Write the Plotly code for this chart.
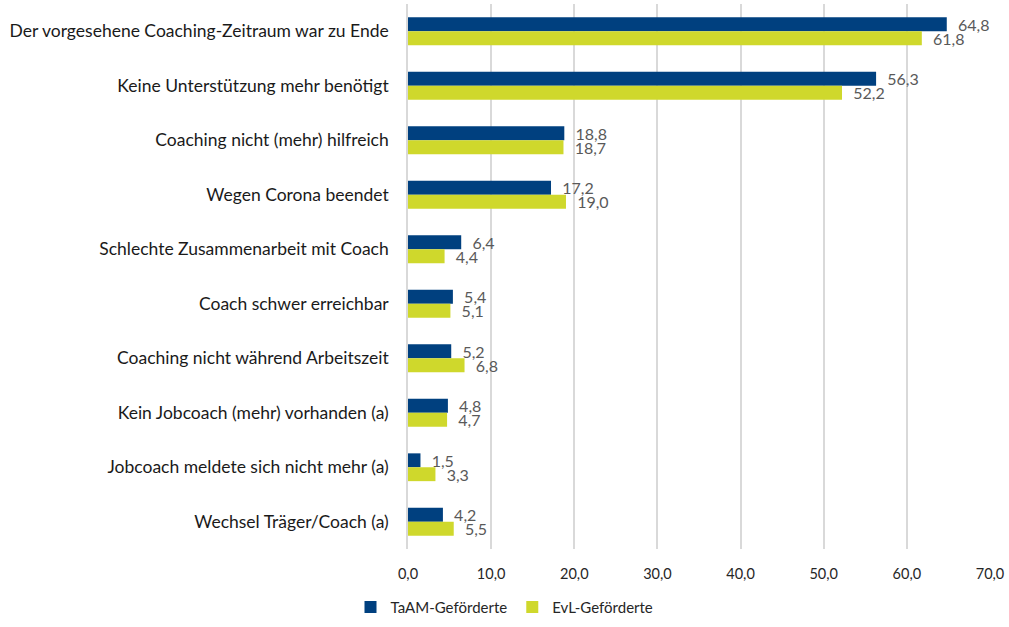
import plotly.graph_objects as go

categories = [
    "Der vorgesehene Coaching-Zeitraum war zu Ende",
    "Keine Unterstützung mehr benötigt",
    "Coaching nicht (mehr) hilfreich",
    "Wegen Corona beendet",
    "Schlechte Zusammenarbeit mit Coach",
    "Coach schwer erreichbar",
    "Coaching nicht während Arbeitszeit",
    "Kein Jobcoach (mehr) vorhanden (a)",
    "Jobcoach meldete sich nicht mehr (a)",
    "Wechsel Träger/Coach (a)",
]
taam = [64.8, 56.3, 18.8, 17.2, 6.4, 5.4, 5.2, 4.8, 1.5, 4.2]
evl = [61.8, 52.2, 18.7, 19.0, 4.4, 5.1, 6.8, 4.7, 3.3, 5.5]
x_ticks = [0, 10, 20, 30, 40, 50, 60, 70]

font_family = "Lato, 'Open Sans', sans-serif"

fig = go.Figure()
for name, vals, color in [("TaAM-Geförderte", taam, "#00407F"),
                          ("EvL-Geförderte", evl, "#CFD82C")]:
    fig.add_trace(go.Bar(
        x=vals, y=categories, orientation="h", name=name,
        marker=dict(color=color, line=dict(width=0)),
        # a little extra room between bar end and label, like the original
        texttemplate="\u00a0\u00a0%{x:.1f}", textposition="outside",
        constraintext="none",
        textfont=dict(family=font_family, size=16, color="#595959"),
        cliponaxis=False,
    ))

fig.update_layout(
    barmode="group",
    bargap=0.49,
    bargroupgap=0,
    separators=",.",
    width=1009, height=627,
    margin=dict(l=408, r=19, t=4, b=78),
    paper_bgcolor="white",
    plot_bgcolor="white",
    font=dict(family=font_family, size=15, color="#262626"),
    xaxis=dict(
        range=[0, 70], tickvals=x_ticks, tickformat=".1f",
        showgrid=True, gridcolor="#D9D9D9", gridwidth=1.5,
        zeroline=False, showline=False,
        ticklabelstandoff=14,
        tickfont=dict(size=14.5, color="#262626"),
    ),
    yaxis=dict(
        autorange="reversed",
        showline=True, linecolor="#D9D9D9", linewidth=1.5,
        ticklabelstandoff=14,
        tickfont=dict(size=17.5, color="#1A1A1A"),
    ),
    legend=dict(
        orientation="h", x=0.5, xref="container", xanchor="center",
        y=0.005, yref="container", yanchor="bottom",
        font=dict(size=15, color="#262626"),
        traceorder="normal",
    ),
)

fig.write_html("out.html", config={"displayModeBar": False},
               post_script="document.body.style.margin='0';")
